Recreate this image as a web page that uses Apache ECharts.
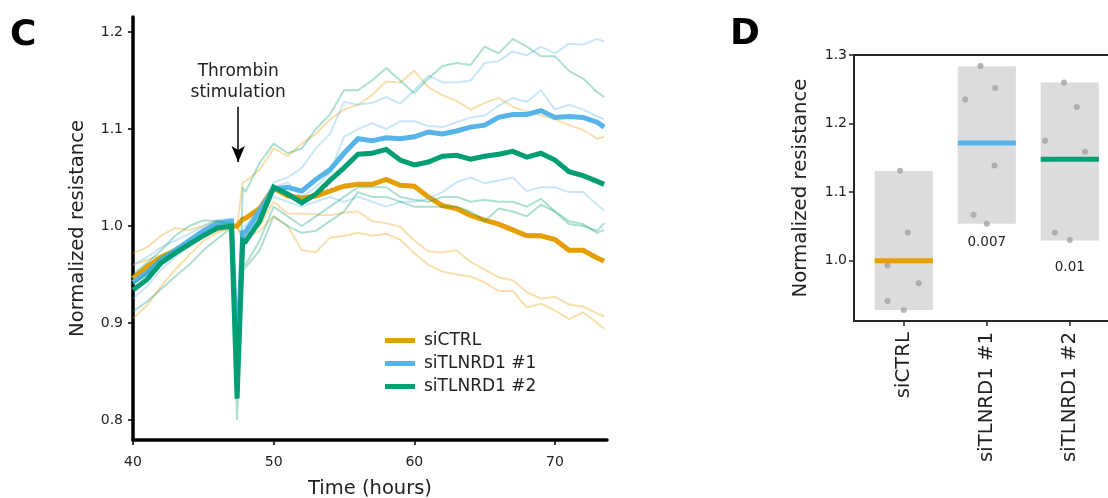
<!DOCTYPE html>
<html>
<head>
<meta charset="utf-8">
<script src="https://cdn.jsdelivr.net/npm/echarts@6/dist/echarts.min.js"></script>
<style>
html, body { margin: 0; padding: 0; background: #fff; }
#main { width: 1108px; height: 498px; }
</style>
</head>
<body>
<div id="main"></div>
<script>
// ---- panel C : time course ----
var hours = [40, 41, 42, 43, 44, 45, 46, 47, 47.4, 47.8,
    48, 49, 50, 51, 52, 53, 54, 55, 56, 57, 58, 59, 60, 61, 62, 63, 64, 65,
    66, 67, 68, 69, 70, 71, 72, 73, 73.5];

var ctrlMean = [0.946, 0.958, 0.968, 0.975, 0.984, 0.992, 0.998, 1.0, 1.0, 1.007,
    1.008, 1.018, 1.039, 1.031, 1.029, 1.031, 1.036, 1.041, 1.043, 1.043,
    1.048, 1.042, 1.041, 1.03, 1.021, 1.018, 1.011, 1.006, 1.002, 0.996,
    0.99, 0.99, 0.986, 0.975, 0.975, 0.967, 0.964];
var ctrlRep1 = [0.972, 0.978, 0.99, 0.998, 0.996, 1.0, 1.006, 1.003, 1.0, 1.045,
    1.046, 1.058, 1.08, 1.072, 1.085, 1.095, 1.11, 1.12, 1.125, 1.135,
    1.149, 1.148, 1.16, 1.143, 1.135, 1.129, 1.12, 1.127, 1.132, 1.123,
    1.118, 1.114, 1.11, 1.104, 1.099, 1.09, 1.092];
var ctrlRep2 = [0.96, 0.965, 0.97, 0.975, 0.985, 0.99, 0.995, 0.998, 0.998, 0.99,
    0.99, 1.0, 1.025, 1.013, 1.013, 1.012, 1.011, 1.014, 1.015, 1.005,
    1.003, 0.999, 0.985, 0.974, 0.973, 0.975, 0.963, 0.955, 0.947, 0.944,
    0.932, 0.925, 0.927, 0.919, 0.917, 0.91, 0.907];
var ctrlRep3 = [0.905, 0.918, 0.938, 0.955, 0.97, 0.985, 0.993, 0.998, 1.0, 0.985,
    0.988, 0.995, 1.01, 1.0, 0.975, 0.973, 0.988, 0.99, 0.993, 0.99,
    0.992, 0.986, 0.972, 0.96, 0.953, 0.95, 0.948, 0.942, 0.933, 0.933,
    0.916, 0.92, 0.913, 0.904, 0.911, 0.9, 0.894];

var kd1Mean = [0.942, 0.952, 0.965, 0.975, 0.985, 0.995, 1.003, 1.005, 0.86, 0.993,
    0.994, 1.015, 1.038, 1.04, 1.036, 1.048, 1.058, 1.075, 1.09, 1.088,
    1.091, 1.09, 1.092, 1.097, 1.095, 1.098, 1.102, 1.104, 1.112, 1.115,
    1.115, 1.119, 1.112, 1.113, 1.112, 1.107, 1.102];
var kd1Rep1 = [0.96, 0.968, 0.978, 0.985, 0.992, 1.0, 1.006, 1.008, 0.88, 1.0,
    1.0, 1.02, 1.045, 1.05, 1.06, 1.08, 1.095, 1.128, 1.125, 1.127,
    1.133, 1.126, 1.14, 1.155, 1.148, 1.148, 1.15, 1.168, 1.17, 1.18,
    1.176, 1.185, 1.178, 1.188, 1.187, 1.193, 1.19];
var kd1Rep2 = [0.94, 0.95, 0.962, 0.972, 0.983, 0.993, 1.002, 1.004, 0.86, 0.99,
    0.99, 1.01, 1.04, 1.045, 1.03, 1.04, 1.055, 1.092, 1.1, 1.106,
    1.1, 1.108, 1.108, 1.103, 1.102, 1.107, 1.112, 1.114, 1.124, 1.132,
    1.128, 1.14, 1.12, 1.125, 1.12, 1.113, 1.11];
var kd1Rep3 = [0.925, 0.938, 0.955, 0.968, 0.98, 0.992, 1.0, 1.003, 0.84, 0.99,
    0.99, 1.015, 1.03, 1.025, 1.02, 1.025, 1.03, 1.025, 1.03, 1.025,
    1.02, 1.025, 1.025, 1.028, 1.035, 1.045, 1.05, 1.044, 1.047, 1.05,
    1.036, 1.04, 1.04, 1.035, 1.035, 1.022, 1.016];

var kd2Mean = [0.934, 0.945, 0.962, 0.972, 0.981, 0.99, 0.998, 1.0, 0.822, 0.985,
    0.984, 1.005, 1.04, 1.033, 1.024, 1.033, 1.047, 1.06, 1.074, 1.075,
    1.079, 1.068, 1.063, 1.066, 1.072, 1.073, 1.069, 1.072, 1.074, 1.077,
    1.071, 1.075, 1.068, 1.056, 1.052, 1.046, 1.043];
var kd2Rep1 = [0.95, 0.962, 0.975, 0.99, 1.0, 1.006, 1.005, 1.002, 0.84, 1.04,
    1.035, 1.065, 1.085, 1.075, 1.08, 1.1, 1.115, 1.14, 1.14, 1.15,
    1.163, 1.15, 1.137, 1.152, 1.165, 1.168, 1.166, 1.185, 1.178, 1.193,
    1.185, 1.175, 1.175, 1.16, 1.152, 1.138, 1.133];
var kd2Rep2 = [0.94, 0.952, 0.968, 0.975, 0.983, 0.99, 1.0, 1.0, 0.825, 0.96,
    0.96, 0.985, 1.02, 1.01, 1.0, 1.01, 1.02, 1.03, 1.04, 1.04,
    1.04, 1.03, 1.027, 1.025, 1.03, 1.03, 1.025, 1.027, 1.025, 1.025,
    1.02, 1.028, 1.015, 1.002, 1.0, 0.995, 1.003];
var kd2Rep3 = [0.912, 0.922, 0.935, 0.948, 0.96, 0.975, 0.987, 0.998, 0.8, 0.955,
    0.957, 0.975, 1.01, 1.0, 0.993, 0.995, 1.005, 1.015, 1.035, 1.03,
    1.03, 1.025, 1.02, 1.02, 1.02, 1.02, 1.015, 1.005, 1.018, 1.015,
    1.01, 1.022, 1.015, 1.005, 1.002, 0.993, 0.996];

var timeTicks = [40, 50, 60, 70];
var resTicksC = [0.8, 0.9, 1.0, 1.1, 1.2];

// thrombin arrow (time, from, to)
var thrombinTime = 47.48;
var arrowFrom = 1.123;
var arrowTo = 1.066;

// ---- panel D : end point summary ----
var groups = ['siCTRL', 'siTLNRD1 #1', 'siTLNRD1 #2'];
var groupMeans = [1.0, 1.1717, 1.148];
var boxLow = [0.928, 1.054, 1.0295];
var boxHigh = [1.1307, 1.2835, 1.26];
var dotValues = [
    [1.131, 1.041, 0.993, 0.967, 0.941, 0.928],
    [1.284, 1.235, 1.252, 1.139, 1.067, 1.054],
    [1.26, 1.224, 1.175, 1.159, 1.041, 1.03]
];
var dotJitter = [
    [-0.045, 0.048, -0.196, 0.18, -0.196, 0],
    [-0.076, -0.26, 0.1, 0.093, -0.16, 0],
    [-0.069, 0.084, -0.298, 0.184, -0.18, 0]
];
var pValues = ['', '0.007', '0.01'];
var pValueY = [null, 1.026, 0.99];
var resTicksD = [1.0, 1.1, 1.2, 1.3];

var colors = ['#E69F00', '#56B4E9', '#009E73'];
var font = 'DejaVu Sans';

function pairs(vals) {
    return hours.map(function (h, i) { return [h, vals[i]]; });
}

function thin(name, vals, color) {
    return {
        name: name, type: 'line', xAxisIndex: 0, yAxisIndex: 0,
        data: pairs(vals), showSymbol: false, silent: true,
        color: color,
        lineStyle: { color: color, width: 2, opacity: 0.32 }
    };
}

function bold(name, vals, color) {
    return {
        name: name, type: 'line', xAxisIndex: 0, yAxisIndex: 0,
        data: pairs(vals), showSymbol: false, silent: true,
        color: color,
        lineStyle: { color: color, width: 5, join: 'miter' }
    };
}

var series = [
    thin('siCTRL r1', ctrlRep1, colors[0]),
    thin('siCTRL r2', ctrlRep2, colors[0]),
    thin('siCTRL r3', ctrlRep3, colors[0]),
    bold('siCTRL', ctrlMean, colors[0]),
    thin('siTLNRD1 #1 r1', kd1Rep1, colors[1]),
    thin('siTLNRD1 #1 r2', kd1Rep2, colors[1]),
    thin('siTLNRD1 #1 r3', kd1Rep3, colors[1]),
    bold('siTLNRD1 #1', kd1Mean, colors[1]),
    thin('siTLNRD1 #2 r1', kd2Rep1, colors[2]),
    thin('siTLNRD1 #2 r2', kd2Rep2, colors[2]),
    thin('siTLNRD1 #2 r3', kd2Rep3, colors[2]),
    bold('siTLNRD1 #2', kd2Mean, colors[2]),
    {
        name: 'thrombin', type: 'line', xAxisIndex: 0, yAxisIndex: 0, data: [],
        markLine: {
            silent: true,
            symbol: ['none', 'arrow'],
            symbolSize: [10, 16],
            lineStyle: { color: '#000', width: 1.5, type: 'solid' },
            label: {
                show: true, position: 'start', distance: 4,
                formatter: 'Thrombin\nstimulation',
                fontSize: 17, lineHeight: 21, color: '#222', fontFamily: font
            },
            data: [[{ coord: [thrombinTime, arrowFrom] }, { coord: [thrombinTime, arrowTo] }]]
        }
    },
    {
        name: 'range', type: 'custom', xAxisIndex: 1, yAxisIndex: 1, silent: true,
        data: groups.map(function (g, i) { return [i, boxLow[i], boxHigh[i]]; }),
        renderItem: function (params, api) {
            var x = api.value(0);
            var p1 = api.coord([x - 0.35, api.value(2)]);
            var p2 = api.coord([x + 0.35, api.value(1)]);
            return {
                type: 'rect',
                shape: { x: p1[0], y: p1[1], width: p2[0] - p1[0], height: p2[1] - p1[1] },
                style: { fill: '#dcdcdc' }
            };
        }
    },
    {
        name: 'points', type: 'scatter', xAxisIndex: 1, yAxisIndex: 1, silent: true,
        symbolSize: 6,
        itemStyle: { color: '#a3a3a3' },
        data: [].concat.apply([], dotValues.map(function (vals, g) {
            return vals.map(function (v, k) { return [g + dotJitter[g][k], v]; });
        }))
    },
    {
        name: 'means', type: 'custom', xAxisIndex: 1, yAxisIndex: 1, silent: true,
        data: groups.map(function (g, i) { return [i, groupMeans[i]]; }),
        renderItem: function (params, api) {
            var x = api.value(0);
            var a = api.coord([x - 0.35, api.value(1)]);
            var b = api.coord([x + 0.35, api.value(1)]);
            return {
                type: 'line',
                shape: { x1: a[0], y1: a[1], x2: b[0], y2: b[1] },
                style: { stroke: colors[params.dataIndex], lineWidth: 5 }
            };
        }
    },
    {
        name: 'pvalues', type: 'custom', xAxisIndex: 1, yAxisIndex: 1, silent: true,
        data: groups.map(function (g, i) { return [i, pValueY[i] === null ? 1 : pValueY[i]]; }),
        renderItem: function (params, api) {
            var p = api.coord([api.value(0), api.value(1)]);
            return {
                type: 'text', x: p[0], y: p[1],
                style: {
                    text: pValues[params.dataIndex], fontSize: 13.5, fontFamily: font,
                    fill: '#222', align: 'center', verticalAlign: 'middle'
                }
            };
        }
    }
];

var myChart = echarts.init(document.getElementById('main'));

var option = {
    animation: false,
    backgroundColor: '#fff',
    textStyle: { fontFamily: font },
    grid: [
        { left: 133, top: 17, width: 474, height: 423, outerBoundsMode: 'none', containLabel: false },
        { left: 854, top: 55, width: 265.6, height: 266, show: true, outerBoundsMode: 'none', containLabel: false,
          borderColor: '#262626', borderWidth: 2, backgroundColor: 'transparent' }
    ],
    legend: {
        data: ['siCTRL', 'siTLNRD1 #1', 'siTLNRD1 #2'],
        orient: 'vertical',
        left: 385, top: 332, padding: 0,
        icon: 'rect', itemWidth: 30, itemHeight: 5, itemGap: 6,
        selectedMode: false,
        textStyle: { fontSize: 17, color: '#222', fontFamily: font, padding: [0, 0, 0, 4] }
    },
    xAxis: [
        {
            type: 'value', gridIndex: 0, min: 40, max: 73.7,
            axisLine: { show: true, onZero: false, lineStyle: { color: '#000', width: 3.5 } },
            axisTick: { show: true, customValues: timeTicks, length: 5, lineStyle: { color: '#000', width: 1.5 } },
            axisLabel: { customValues: timeTicks, fontSize: 14, color: '#222', margin: 15, fontFamily: font },
            splitLine: { show: false },
            name: 'Time (hours)', nameLocation: 'middle', nameGap: 39,
            nameTextStyle: { fontSize: 19.5, color: '#222', fontFamily: font }
        },
        {
            type: 'value', gridIndex: 1, min: -0.6, max: 2.6,
            axisLine: { show: false, onZero: false },
            axisTick: { show: true, customValues: [0, 1, 2], length: 5, lineStyle: { color: '#262626', width: 1.5 } },
            axisLabel: {
                customValues: [0, 1, 2], rotate: 90, fontSize: 19.7, color: '#222', margin: 11, fontFamily: font,
                formatter: function (v) { return groups[Math.round(v)]; }
            },
            splitLine: { show: false }
        }
    ],
    yAxis: [
        {
            type: 'value', gridIndex: 0, min: 0.7794, max: 1.2155,
            axisLine: { show: true, onZero: false, lineStyle: { color: '#000', width: 3.5 } },
            axisTick: { show: true, customValues: resTicksC, length: 5, lineStyle: { color: '#000', width: 1.5 } },
            axisLabel: {
                customValues: resTicksC, fontSize: 14, color: '#222', margin: 10, fontFamily: font,
                formatter: function (v) { return v.toFixed(1); }
            },
            splitLine: { show: false },
            name: 'Normalized resistance', nameLocation: 'middle', nameGap: 45,
            nameTextStyle: { fontSize: 19.5, color: '#222', fontFamily: font }
        },
        {
            type: 'value', gridIndex: 1, min: 0.912, max: 1.3,
            axisLine: { show: false, onZero: false },
            axisTick: { show: true, customValues: resTicksD, length: 5, lineStyle: { color: '#262626', width: 1.5 } },
            axisLabel: {
                customValues: resTicksD, fontSize: 14, color: '#222', margin: 7, fontFamily: font,
                formatter: function (v) { return v.toFixed(1); }
            },
            splitLine: { show: false },
            name: 'Normalized resistance', nameLocation: 'middle', nameGap: 43,
            nameTextStyle: { fontSize: 19.7, color: '#222', fontFamily: font }
        }
    ],
    graphic: [
        { type: 'text', left: 10, top: 18, style: { text: 'C', fontSize: 36, fontWeight: 'bold', fontFamily: font, fill: '#000' } },
        { type: 'text', left: 730, top: 17, style: { text: 'D', fontSize: 36, fontWeight: 'bold', fontFamily: font, fill: '#000' } }
    ],
    series: series
};

myChart.setOption(option);
</script>
</body>
</html>
